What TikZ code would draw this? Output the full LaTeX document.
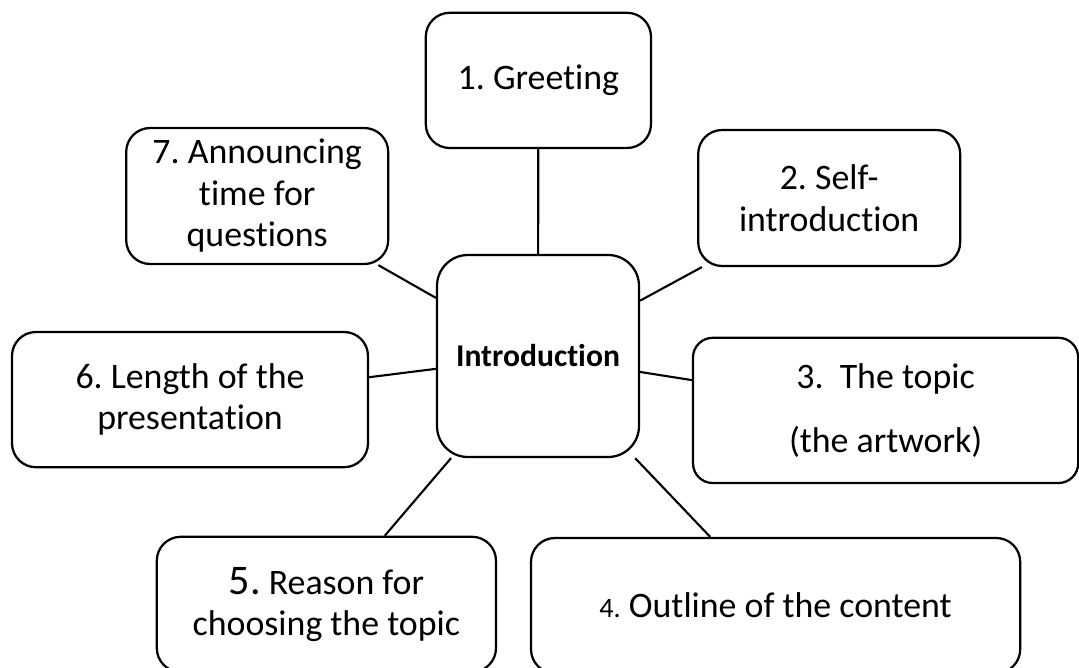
\documentclass[tikz,border=0pt]{standalone}
\usepackage{fontspec}
\setmainfont{Carlito}[Ligatures=NoCommon]
\frenchspacing

\begin{document}
\begin{tikzpicture}[
		box/.style={draw, line width=1.6pt, rounded corners=17pt, align=center, inner sep=0pt,
			font=\fontsize{25.5}{29.5}\selectfont},
		link/.style={line width=1.5pt}
	]
		\useasboundingbox (0,0) rectangle (26.975,-16.675);
		\clip (0,0) rectangle (26.975,-16.675);
		\node[box, rounded corners=22pt, minimum width=5.05cm, minimum height=5.05cm,
			font=\fontsize{22.5}{25}\selectfont\bfseries] (intro) at (13.45,-8.90) {Introduction};
		\node[box, minimum width=5.63cm, minimum height=3.38cm] (greet) at (13.46,-2.01) {1. Greeting};
		\node[box, minimum width=6.55cm, minimum height=3.40cm] (self) at (20.73,-4.95) {2. Self-\\introduction};
		\node[box, rounded corners=14pt, minimum width=9.63cm, minimum height=3.63cm] (topic) at (22.14,-10.26) {3.\ \ The topic\\[16pt](the artwork)};
		\node[box, minimum width=12.23cm, minimum height=3.38cm] (outline) at (19.39,-15.14) {{\fontsize{20}{24}\selectfont 4.} Outline of the content};
		\node[box, minimum width=8.48cm, minimum height=3.38cm] (reason) at (8.16,-15.11) {{\fontsize{30}{29.5}\selectfont 5.} Reason for\\choosing the topic};
		\node[box, minimum width=8.90cm, minimum height=3.38cm] (length) at (4.75,-9.99) {6. Length of the\\presentation};
		\node[box, minimum width=6.55cm, minimum height=3.40cm] (announce) at (6.43,-4.90) {7. Announcing\\time for\\questions};
		% spokes
		\draw[link] (intro) -- (greet);
		\draw[link] (intro) -- (self);
		\draw[link] (intro) -- (topic);
		\draw[link] (intro) -- (outline);
		\draw[link] (intro) -- (reason);
		\draw[link] (intro) -- (length);
		\draw[link] (intro) -- (announce);
	\end{tikzpicture}
\end{document}
